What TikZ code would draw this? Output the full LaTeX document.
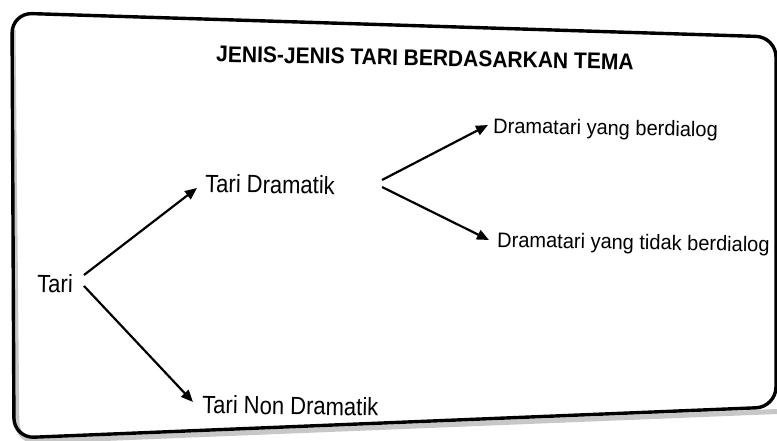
\documentclass[tikz,border=0pt]{standalone}
\usepackage{fontspec}
\setmainfont{Liberation Sans}
\usetikzlibrary{arrows.meta}
\begin{document}
\begin{tikzpicture}[x=1pt,y=-1pt,
  lbl/.style={font=\fontsize{20}{22}\selectfont, inner sep=0pt, anchor=base west, rotate=-1, yscale=1.05},
  lblbig/.style={lbl, font=\fontsize{22}{24}\selectfont, yscale=1.08},
  ttl/.style={font=\bfseries\fontsize{21}{24}\selectfont, inner sep=0pt, rotate=-1.1, yscale=1.08},
  conn/.style={line width=2.2pt, -{Triangle[length=12pt,width=10pt]}},
  frame/.style={line width=3.4pt, rounded corners=20pt},
  shadowline/.style={line width=5pt, draw=black!22, rounded corners=20pt}]
\useasboundingbox (0,0) rectangle (777,441);
\fill[white] (0,0) rectangle (777,441);
% frame shadow and frame
\draw[shadowline] (13,30) -- (17,442) -- (790,411);
\draw[frame] (12,13) -- (776,37) -- (776,407) -- (14,438) -- cycle;
% title
\node[ttl] (title) at (425,58) {JENIS-JENIS TARI BERDASARKAN TEMA};
% nodes
\node[lblbig] (tari) at (37,292) {Tari};
\node[lblbig] (dram) at (205,192) {Tari Dramatik};
\node[lblbig] (non) at (202,413) {Tari Non Dramatik};
\node[lbl] (dial) at (493,133) {Dramatari yang berdialog};
\node[lbl] (tdial) at (497,247) {Dramatari yang tidak berdialog};
% connector ends
\coordinate (t1) at (84,275);
\coordinate (t2) at (84,286);
\coordinate (e1) at (197,188);
\coordinate (e2) at (193,402);
\coordinate (d1) at (382,180);
\coordinate (d2) at (382,187);
\coordinate (e3) at (488,125);
\coordinate (e4) at (489,240);
\draw[conn] (t1) -- (e1);
\draw[conn] (t2) -- (e2);
\draw[conn] (d1) -- (e3);
\draw[conn] (d2) -- (e4);
\end{tikzpicture}
\end{document}
